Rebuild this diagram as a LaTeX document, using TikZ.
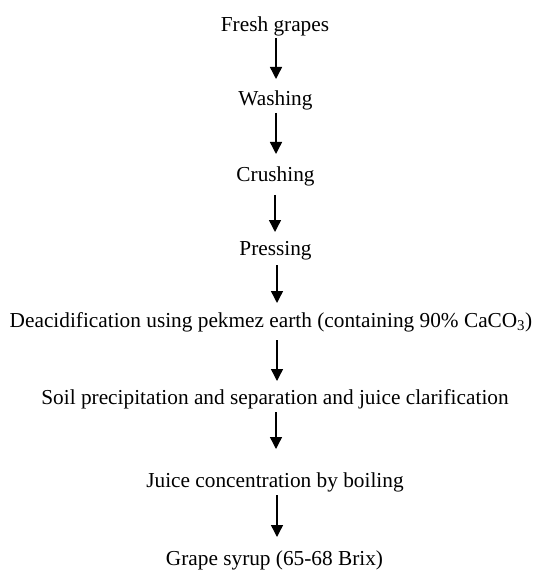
\documentclass[tikz,border=0pt]{standalone}
\usepackage{fontspec}
\setmainfont{Liberation Serif}
\usetikzlibrary{arrows.meta}
\begin{document}
\begin{tikzpicture}[x=1pt,y=1pt,
  lbl/.style={anchor=base,inner sep=0pt,font=\fontsize{21.3}{24}\selectfont},
  arr/.style={line width=1.4pt,-{Triangle[length=12pt,width=12pt]}}]
\useasboundingbox (0,0) rectangle (542,-577);
\node[lbl] (n1) at (275,-32) {Fresh grapes};
\node[lbl] (n2) at (275.5,-106) {Washing};
\node[lbl] (n3) at (275.5,-182) {Crushing};
\node[lbl] (n4) at (275.5,-255) {Pressing};
\node[lbl] (n5) at (271,-327) {Deacidification using pekmez earth (containing 90\% CaCO\textsubscript{3})};
\node[lbl] (n6) at (275,-404) {Soil precipitation and separation and juice clarification};
\node[lbl] (n7) at (275,-487) {Juice concentration by boiling};
\node[lbl] (n8) at (274.5,-565) {Grape syrup (65-68 Brix)};
\coordinate (a1s) at (276,-38);  \coordinate (a1e) at (276,-79);
\coordinate (a2s) at (276,-113); \coordinate (a2e) at (276,-154);
\coordinate (a3s) at (275,-195); \coordinate (a3e) at (275,-232);
\coordinate (a4s) at (277,-265); \coordinate (a4e) at (277,-303);
\coordinate (a5s) at (277,-340); \coordinate (a5e) at (277,-381);
\coordinate (a6s) at (276,-412); \coordinate (a6e) at (276,-449);
\coordinate (a7s) at (277,-495); \coordinate (a7e) at (277,-537);
\draw[arr] (a1s) -- (a1e);
\draw[arr] (a2s) -- (a2e);
\draw[arr] (a3s) -- (a3e);
\draw[arr] (a4s) -- (a4e);
\draw[arr] (a5s) -- (a5e);
\draw[arr] (a6s) -- (a6e);
\draw[arr] (a7s) -- (a7e);
\end{tikzpicture}
\end{document}
